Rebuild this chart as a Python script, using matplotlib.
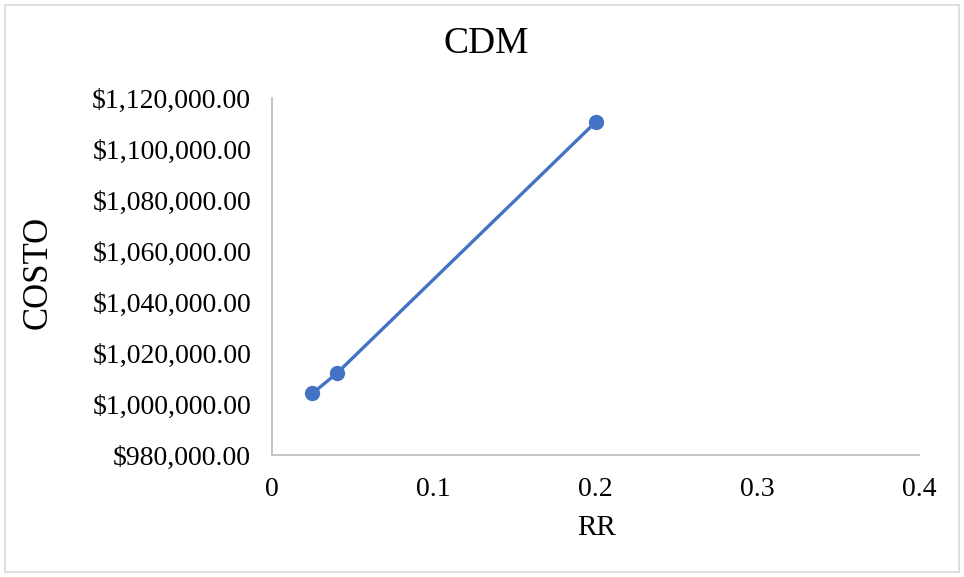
import matplotlib
matplotlib.use("Agg")
import matplotlib.pyplot as plt
from matplotlib.patches import Rectangle
from matplotlib.ticker import FuncFormatter, MultipleLocator

# Data: cost versus RR
rr = [0.025, 0.04, 0.2]
costo = [1004200, 1012000, 1110500]

x_ticks = [0, 0.1, 0.2, 0.3, 0.4]
y_min, y_max, y_step = 980000, 1120000, 20000

plt.rcParams["font.family"] = ["Liberation Serif", "DejaVu Serif"]

fig = plt.figure(figsize=(9.64, 5.77), dpi=100)
ax = fig.add_axes([0.2822, 0.2114, 0.6711, 0.6188])

ax.plot(rr, costo, color="#4472C4", linewidth=2.4, marker="o",
        markersize=10, markerfacecolor="#4472C4", markeredgecolor="#4472C4",
        solid_capstyle="round", zorder=3)

ax.set_xlim(0, 0.4)
ax.set_ylim(y_min, y_max)
ax.set_xticks(x_ticks)
ax.xaxis.set_major_formatter(FuncFormatter(lambda v, p: f"{v:g}"))
ax.yaxis.set_major_locator(MultipleLocator(y_step))
ax.yaxis.set_major_formatter(FuncFormatter(lambda v, p: f"${v:,.2f}"))

for side in ("top", "right"):
    ax.spines[side].set_visible(False)
for side in ("left", "bottom"):
    ax.spines[side].set_color("#BFBFBF")
    ax.spines[side].set_linewidth(1.3)

ax.tick_params(axis="both", length=0, labelsize=20, colors="#000000")
ax.tick_params(axis="y", pad=15)
ax.tick_params(axis="x", pad=16)

fig.text(0.504, 0.924, "CDM", ha="center", va="center", fontsize=27)
fig.text(0.619, 0.085, "RR", ha="center", va="center", fontsize=21)
fig.text(0.040, 0.528, "COSTO", ha="center", va="center", fontsize=25,
         rotation=90)

# Chart area border
fig.patches.append(Rectangle((0.005, 0.008), 0.99, 0.984, transform=fig.transFigure,
                             fill=False, edgecolor="#D9D9D9", linewidth=1.2))

fig.savefig("out.png", dpi=100, facecolor="white")
